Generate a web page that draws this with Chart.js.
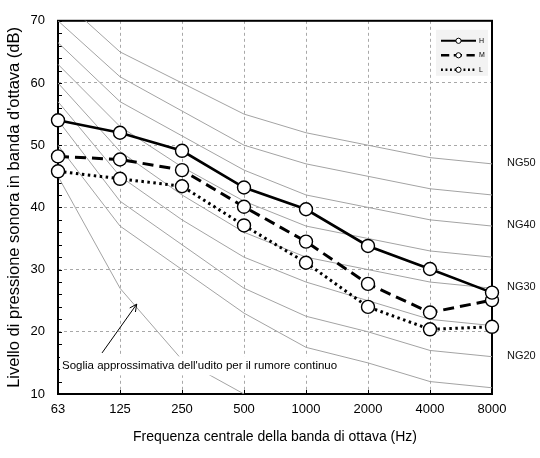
<!DOCTYPE html>
<html>
<head>
<meta charset="utf-8">
<script src="https://cdn.jsdelivr.net/npm/chart.js@4.4.1/dist/chart.umd.min.js"></script>
<style>
  html, body { margin: 0; padding: 0; background: #fff; }
  #wrap { width: 540px; height: 458px; }
</style>
</head>
<body>
<div id="wrap"><canvas id="ng-chart" width="540" height="458"></canvas></div>
<script>
/* global Chart */
var frequencies = ['63', '125', '250', '500', '1000', '2000', '4000', '8000'];

// measured levels
var levelH = [54, 52, 49.1, 43.2, 39.7, 33.8, 30.1, 26.3];
var levelM = [48.2, 47.7, 46, 40.1, 34.5, 27.7, 23.1, 25.1];
var levelL = [45.8, 44.6, 43.4, 37.1, 31.1, 24, 20.4, 20.8];

// NG curves
var ng15 = [50, 37, 30, 23, 17.5, 15, 12, 11];
var ng20 = [54, 41, 34, 27, 22.5, 20, 17, 16];
var ng25 = [57, 45, 38, 32, 28, 25, 22, 21];
var ng30 = [60, 49, 42, 36, 32, 30, 28, 27];
var ng35 = [63, 53, 46.5, 41, 37, 35, 33, 32];
var ng40 = [66.5, 57, 51.5, 46, 42, 40, 38, 37];
var ng45 = [70, 61, 55.5, 50, 47, 45, 43, 42];
var ng50 = [74, 65, 60, 55, 52, 50, 48, 47];
var hearingThreshold = [45, 27, 15.5, 10, null, null, null, null];

var ngLabels = ['NG50', 'NG40', 'NG30', 'NG20'];
var ngLabelCurves = [ng50, ng40, ng30, ng20];

var yMin = 10, yMax = 70, yStep = 10, yMinorStep = 2;

var noteText = "Soglia approssimativa dell'udito per il rumore continuo";
var noteAt = { x: 0, y: 14.6 };
var arrowFrom = { x: 0.71, y: 16.6 };
var arrowTo = { x: 1.27, y: 24.45 };

(function () {
    'use strict';

    var FONT = "'Liberation Sans', Arial, Helvetica, sans-serif";
    Chart.defaults.font.family = FONT;
    Chart.defaults.color = '#000';

    function seriesSet(label, data, width, dash) {
        return {
            label: label, data: data, borderColor: '#000', borderWidth: width, borderDash: dash,
            pointRadius: 6.5, pointHoverRadius: 6.5, pointBorderWidth: 1.4,
            pointBackgroundColor: '#fff', pointBorderColor: '#000', fill: false, tension: 0
        };
    }
    function curveSet(label, data) {
        return { label: label, data: data, borderColor: '#a3a3a3', borderWidth: 1, pointRadius: 0, fill: false, tension: 0, spanGaps: false };
    }

    var framePlugin = {
        id: 'frame',
        beforeDatasetsDraw: function (chart) {
            var a = chart.chartArea, ctx = chart.ctx, ys = chart.scales.y, xs = chart.scales.x, v, i;
            ctx.save();
            ctx.strokeStyle = '#000';
            ctx.lineWidth = 1;
            for (v = yMin; v <= yMax; v += yMinorStep) {
                var py = Math.round(ys.getPixelForValue(v)) + 0.5;
                ctx.beginPath(); ctx.moveTo(a.left, py); ctx.lineTo(a.left + 4, py); ctx.stroke();
            }
            for (i = 0; i < frequencies.length; i++) {
                var px = Math.round(xs.getPixelForValue(i)) + 0.5;
                ctx.beginPath(); ctx.moveTo(px, a.bottom); ctx.lineTo(px, a.bottom - 4); ctx.stroke();
            }
            ctx.lineWidth = 2;
            ctx.strokeRect(a.left, a.top, a.right - a.left, a.bottom - a.top);
            ctx.restore();
        },
        afterDatasetsDraw: function (chart) {
            var a = chart.chartArea, ctx = chart.ctx, ys = chart.scales.y, xs = chart.scales.x, i;
            ctx.save();
            // note with white box
            ctx.font = '11.5px ' + FONT;
            var tx = xs.getPixelForValue(noteAt.x) + 4, ty = ys.getPixelForValue(noteAt.y);
            var tw = ctx.measureText(noteText).width;
            ctx.fillStyle = '#fff';
            ctx.fillRect(tx - 2, ty - 9, tw + 4, 19);
            ctx.fillStyle = '#000';
            ctx.textBaseline = 'middle';
            ctx.fillText(noteText, tx, ty);
            // arrow
            var x1 = xs.getPixelForValue(arrowFrom.x), y1 = ys.getPixelForValue(arrowFrom.y);
            var x2 = xs.getPixelForValue(arrowTo.x), y2 = ys.getPixelForValue(arrowTo.y);
            var ang = Math.atan2(y2 - y1, x2 - x1);
            ctx.strokeStyle = '#000'; ctx.lineWidth = 1;
            ctx.beginPath(); ctx.moveTo(x1, y1); ctx.lineTo(x2, y2); ctx.stroke();
            ctx.beginPath();
            ctx.moveTo(x2 - 8 * Math.cos(ang - 0.45), y2 - 8 * Math.sin(ang - 0.45));
            ctx.lineTo(x2, y2);
            ctx.lineTo(x2 - 8 * Math.cos(ang + 0.45), y2 - 8 * Math.sin(ang + 0.45));
            ctx.stroke();
            // NG labels on the right
            ctx.font = '11px ' + FONT;
            ctx.fillStyle = '#111';
            for (i = 0; i < ngLabels.length; i++) {
                var c = ngLabelCurves[i];
                ctx.fillText(ngLabels[i], a.right + 15, ys.getPixelForValue(c[c.length - 1]) - 1);
            }
            // legend box
            var lx = a.right - 56, ly = a.top + 9;
            ctx.fillStyle = '#f3f3f3';
            ctx.fillRect(lx, ly, 52, 46);
            var entries = chart.data.datasets.slice(0, 3);
            ctx.font = '7px ' + FONT;
            for (i = 0; i < entries.length; i++) {
                var ds = entries[i], ey = ly + 11 + i * 14.5;
                ctx.strokeStyle = '#000';
                ctx.lineWidth = ds.borderWidth * 0.8;
                ctx.setLineDash((ds.borderDash || []).map(function (d) { return d * 0.75; }));
                ctx.beginPath(); ctx.moveTo(lx + 5, ey); ctx.lineTo(lx + 40, ey); ctx.stroke();
                ctx.setLineDash([]);
                ctx.lineWidth = 1;
                ctx.fillStyle = '#fff';
                ctx.beginPath(); ctx.arc(lx + 22.5, ey, 2.6, 0, Math.PI * 2); ctx.fill(); ctx.stroke();
                ctx.fillStyle = '#000';
                ctx.fillText(ds.label, lx + 43, ey);
            }
            ctx.restore();
        }
    };

    var ctx = document.getElementById('ng-chart');
    new Chart(ctx, {
        type: 'line',
        data: {
            labels: frequencies,
            datasets: [
                seriesSet('H', levelH, 2.6, []),
                seriesSet('M', levelM, 3, [11, 6]),
                seriesSet('L', levelL, 3, [2.5, 3.5]),
                curveSet('NG50', ng50), curveSet('NG45', ng45), curveSet('NG40', ng40), curveSet('NG35', ng35),
                curveSet('NG30', ng30), curveSet('NG25', ng25), curveSet('NG20', ng20), curveSet('NG15', ng15),
                curveSet('soglia', hearingThreshold)
            ]
        },
        options: {
            responsive: false, animation: false, devicePixelRatio: 1,
            layout: { padding: { top: 12, right: 48, left: 0, bottom: 0 } },
            plugins: { legend: { display: false }, tooltip: { enabled: false } },
            scales: {
                x: {
                    offset: false,
                    grid: { color: '#a8a8a8', lineWidth: 1, drawTicks: false },
                    border: { display: false, dash: [3, 3] },
                    ticks: { font: { size: 13 }, padding: 8, maxRotation: 0, autoSkip: false },
                    title: { display: true, text: 'Frequenza centrale della banda di ottava (Hz)', font: { size: 14 }, padding: { top: 0, bottom: 12 } },
                    afterFit: function (s) { s.height = 64; s.paddingLeft = 0; s.paddingRight = 0; }
                },
                y: {
                    min: yMin, max: yMax,
                    grid: { color: '#a8a8a8', lineWidth: 1, drawTicks: false },
                    border: { display: false, dash: [3, 3] },
                    ticks: { stepSize: yStep, font: { size: 13 }, padding: 13 },
                    title: { display: true, text: "Livello di pressione sonora in banda d'ottava (dB)", font: { size: 16.5 }, padding: { top: 5, bottom: 0 } },
                    afterFit: function (s) { s.width = 58; }
                }
            }
        },
        plugins: [framePlugin]
    });
})();
</script>
</body>
</html>
